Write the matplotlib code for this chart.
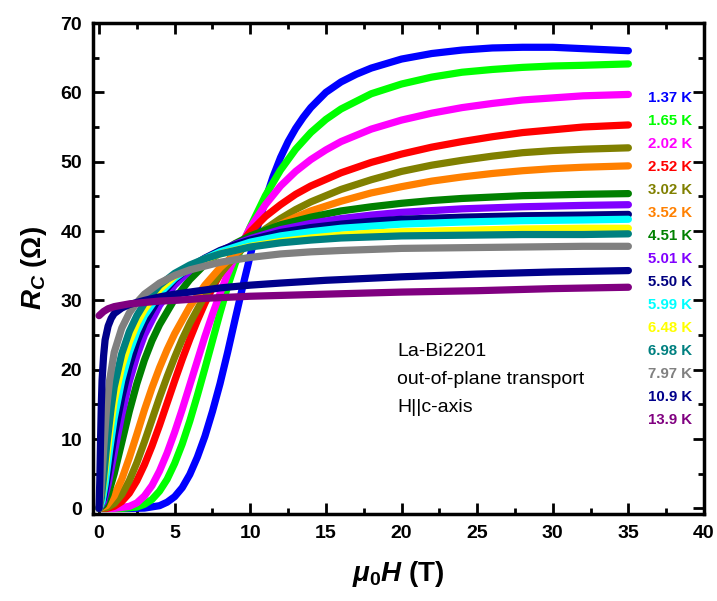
import matplotlib
matplotlib.use("Agg")
import matplotlib.pyplot as plt
from matplotlib.ticker import MultipleLocator

plt.rcParams['font.family'] = ['Liberation Sans', 'DejaVu Sans']
plt.rcParams['mathtext.fontset'] = 'custom'
plt.rcParams['mathtext.it'] = 'Liberation Sans:bold:italic'
plt.rcParams['mathtext.bf'] = 'Liberation Sans:bold'
plt.rcParams['mathtext.rm'] = 'Liberation Sans:bold'

temps = ["1.37 K", "1.65 K", "2.02 K", "2.52 K", "3.02 K", "3.52 K", "4.51 K", "5.01 K",
         "5.50 K", "5.99 K", "6.48 K", "6.98 K", "7.97 K", "10.9 K", "13.9 K"]
colors = ["#0000FF", "#00FF00", "#FF00FF", "#FF0000", "#808000", "#FF8000", "#008000", "#8000FF",
          "#000080", "#00FFFF", "#FFFF00", "#008080", "#808080", "#00008B", "#800080"]

H_137 = [0, 2, 3, 4, 4.5, 5, 5.5, 6, 6.5, 7, 7.5, 8, 8.5, 9, 9.5, 10, 10.5, 11, 11.5, 12, 12.5, 13, 13.5, 14, 15, 16, 17, 18, 20, 22, 24, 26, 28, 30, 32, 35]
R_137 = [0, 0, 0.05, 0.4, 0.9, 1.7, 3.0, 4.9, 7.4, 10.4, 14, 18, 22.5, 27.3, 32, 36.5, 40.7, 44.5, 47.8, 50.6, 52.9, 54.8, 56.4, 57.8, 60.0, 61.5, 62.6, 63.5, 64.8, 65.6, 66.1, 66.4, 66.5, 66.5, 66.3, 66.0]

H_165 = [0, 1.5, 2.5, 3, 3.5, 4, 4.5, 5, 5.5, 6, 6.5, 7, 7.5, 8, 8.5, 9, 9.5, 10, 11, 12, 13, 14, 15, 16, 18, 20, 22, 24, 26, 28, 30, 32, 35]
R_165 = [0, 0, 0.2, 0.6, 1.3, 2.5, 4.2, 6.5, 9.3, 12.6, 16.3, 20.2, 24.2, 28.2, 32, 35.3, 38.1, 40.6, 45.1, 48.8, 51.8, 54.2, 56.1, 57.6, 59.8, 61.2, 62.2, 62.9, 63.3, 63.6, 63.8, 63.9, 64.1]

H_202 = [0, 1, 2, 2.5, 3, 3.5, 4, 4.5, 5, 5.5, 6, 6.5, 7, 7.5, 8, 8.5, 9, 10, 11, 12, 13, 14, 15, 16, 18, 20, 22, 24, 26, 28, 30, 32, 35]
R_202 = [0, 0, 0.3, 0.8, 1.8, 3.3, 5.4, 8, 11, 14.3, 17.8, 21.3, 24.8, 28, 31, 33.8, 36.3, 40.5, 43.8, 46.5, 48.6, 50.3, 51.7, 52.9, 54.7, 56, 57, 57.8, 58.4, 58.9, 59.2, 59.5, 59.7]

H_252 = [0, 0.5, 1, 1.5, 2, 2.5, 3, 3.5, 4, 4.5, 5, 5.5, 6, 6.5, 7, 7.5, 8, 9, 10, 11, 12, 13, 14, 16, 18, 20, 22, 24, 26, 28, 30, 32, 35]
R_252 = [0, 0, 0.3, 1, 2.2, 4, 6.3, 9, 12, 15.2, 18.4, 21.5, 24.4, 27.1, 29.6, 31.8, 33.8, 37.2, 39.9, 42.1, 43.8, 45.3, 46.5, 48.4, 49.9, 51.1, 52.1, 52.9, 53.6, 54.2, 54.6, 55, 55.3]

H_302 = [0, 0.5, 1, 1.5, 2, 2.5, 3, 3.5, 4, 4.5, 5, 5.5, 6, 7, 8, 9, 10, 11, 12, 13, 14, 16, 18, 20, 22, 24, 26, 28, 30, 32, 35]
R_302 = [0, 0.1, 0.7, 2, 4, 6.6, 9.6, 12.8, 16, 19, 21.8, 24.4, 26.7, 30.7, 33.8, 36.4, 38.5, 40.3, 41.8, 43.1, 44.2, 46, 47.4, 48.6, 49.5, 50.2, 50.8, 51.3, 51.6, 51.8, 52]

H_352 = [0, 0.5, 1, 1.5, 2, 2.5, 3, 3.5, 4, 4.5, 5, 6, 7, 8, 9, 10, 11, 12, 13, 14, 16, 18, 20, 22, 24, 26, 28, 30, 32, 35]
R_352 = [0, 0.4, 1.8, 4.2, 7.3, 10.7, 14.2, 17.4, 20.3, 22.9, 25.2, 29.1, 32.2, 34.7, 36.7, 38.4, 39.8, 41, 42, 42.9, 44.3, 45.5, 46.4, 47.2, 47.8, 48.3, 48.7, 49, 49.2, 49.4]

H_451 = [0, 0.3, 0.6, 1, 1.5, 2, 2.5, 3, 3.5, 4, 5, 6, 7, 8, 9, 10, 12, 14, 16, 18, 20, 22, 24, 26, 28, 30, 32, 35]
R_451 = [0, 0.5, 2, 5, 9.5, 14, 18, 21.4, 24.2, 26.5, 30.2, 33, 35.2, 36.9, 38.2, 39.3, 40.9, 42, 42.9, 43.5, 44, 44.4, 44.7, 44.9, 45.1, 45.2, 45.3, 45.4]

H_501 = [0, 0.3, 0.6, 1, 1.5, 2, 2.5, 3, 4, 5, 6, 7, 8, 9, 10, 12, 14, 16, 18, 20, 24, 28, 32, 35]
R_501 = [0, 1, 3.5, 8, 13.5, 18.3, 22, 25, 29.3, 32.2, 34.3, 35.9, 37.1, 38.1, 38.9, 40.2, 41.1, 41.8, 42.3, 42.7, 43.2, 43.5, 43.7, 43.8]

H_550 = [0, 0.3, 0.6, 1, 1.5, 2, 2.5, 3, 4, 5, 6, 7, 8, 9, 10, 12, 14, 16, 18, 20, 24, 28, 32, 35]
R_550 = [0, 1.5, 5, 10.5, 16, 20.5, 24, 26.7, 30.5, 33, 34.8, 36.1, 37.2, 38, 38.7, 39.8, 40.5, 41, 41.4, 41.7, 42, 42.2, 42.3, 42.4]

H_599 = [0, 0.2, 0.4, 0.7, 1, 1.5, 2, 2.5, 3, 4, 5, 6, 7, 8, 10, 12, 14, 16, 18, 20, 24, 28, 32, 35]
R_599 = [0, 1, 3.5, 8.5, 13, 18.5, 22.5, 25.5, 27.8, 31, 33.2, 34.8, 36, 37, 38.4, 39.3, 39.9, 40.4, 40.7, 41, 41.3, 41.5, 41.6, 41.7]

H_648 = [0, 0.2, 0.4, 0.7, 1, 1.5, 2, 2.5, 3, 4, 5, 6, 7, 8, 10, 12, 14, 16, 18, 20, 24, 28, 32, 35]
R_648 = [0, 2, 5.5, 11, 15.5, 20.5, 24, 26.7, 28.7, 31.6, 33.5, 34.9, 35.9, 36.7, 37.8, 38.5, 39, 39.4, 39.7, 39.9, 40.1, 40.3, 40.4, 40.4]

H_698 = [0, 0.15, 0.3, 0.5, 0.8, 1, 1.5, 2, 2.5, 3, 4, 5, 6, 7, 8, 10, 12, 14, 16, 20, 24, 28, 32, 35]
R_698 = [0, 1.5, 4.5, 9, 14.5, 17.5, 22.3, 25.5, 27.8, 29.6, 32.2, 33.9, 35.1, 36, 36.7, 37.7, 38.3, 38.7, 39, 39.3, 39.4, 39.5, 39.5, 39.6]

H_797 = [0, 0.1, 0.2, 0.35, 0.5, 0.7, 1, 1.5, 2, 2.5, 3, 4, 5, 6, 8, 10, 12, 14, 16, 20, 24, 28, 32, 35]
R_797 = [0, 2, 5, 10, 14.5, 18.5, 22.5, 26, 28.2, 29.7, 30.9, 32.5, 33.6, 34.4, 35.5, 36.2, 36.7, 37, 37.2, 37.5, 37.6, 37.7, 37.8, 37.8]

H_109 = [0, 0.05, 0.1, 0.15, 0.2, 0.3, 0.4, 0.6, 0.8, 1, 1.5, 2, 3, 4, 5, 6, 8, 10, 12, 15, 20, 25, 30, 35]
R_109 = [0, 4, 10, 15, 18.5, 22, 24.3, 26.3, 27.4, 28.1, 28.9, 29.4, 30.0, 30.5, 30.9, 31.2, 31.8, 32.2, 32.5, 32.9, 33.4, 33.8, 34.1, 34.3]

H_139 = [0, 0.1, 0.3, 0.6, 1, 1.5, 2, 3, 4, 5, 7, 10, 15, 20, 25, 30, 35]
R_139 = [27.8, 28.0, 28.4, 28.8, 29.1, 29.3, 29.5, 29.7, 29.9, 30.0, 30.3, 30.6, 30.9, 31.2, 31.4, 31.7, 31.9]

fields = [H_137, H_165, H_202, H_252, H_302, H_352, H_451, H_501, H_550, H_599, H_648, H_698, H_797, H_109, H_139]
resist = [R_137, R_165, R_202, R_252, R_302, R_352, R_451, R_501, R_550, R_599, R_648, R_698, R_797, R_109, R_139]

x_ticks = [0, 5, 10, 15, 20, 25, 30, 35, 40]
y_ticks = [0, 10, 20, 30, 40, 50, 60, 70]

W, Hpx = 717, 601
fig = plt.figure(figsize=(W / 100, Hpx / 100), dpi=100)
ax = fig.add_axes([93 / W, 1 - 514 / Hpx, (704 - 93) / W, (514 - 23) / Hpx])

for h, r, c in zip(fields, resist, colors):
    ax.plot(h, r, color=c, lw=5.2, solid_capstyle='round', solid_joinstyle='round')

ax.set_xlim(-0.4, 40)
ax.set_ylim(-0.8, 70)
ax.set_xticks(x_ticks)
ax.set_yticks(y_ticks)
ax.xaxis.set_minor_locator(MultipleLocator(2.5))
ax.yaxis.set_minor_locator(MultipleLocator(5))
ax.tick_params(which='both', direction='in', top=True, right=True, width=2)
ax.tick_params(which='major', length=8, labelsize=14, pad=8)
ax.tick_params(which='minor', length=4)
for lab in ax.get_xticklabels() + ax.get_yticklabels():
    lab.set_fontweight('bold')
for s in ax.spines.values():
    s.set_linewidth(2.5)

ax.set_xlabel(r'$\mu_0H$ (T)', fontsize=20, fontweight='bold', labelpad=12)
ax.set_ylabel(r'$R_C$ ($\Omega$)', fontsize=20, fontweight='bold', labelpad=8)

for i, (t, c) in enumerate(zip(temps, colors)):
    fig.text(692 / W, 1 - (98 + 23 * i) / Hpx, t, color=c, fontsize=10.8,
             fontweight='bold', ha='right', va='center')

for i, line in enumerate(["La-Bi2201", "out-of-plane transport", "H||c-axis"]):
    fig.text(397 / W, 1 - (351 + 28.5 * i) / Hpx, line, fontsize=14, ha='left', va='center')

fig.savefig("out.png", dpi=100)
